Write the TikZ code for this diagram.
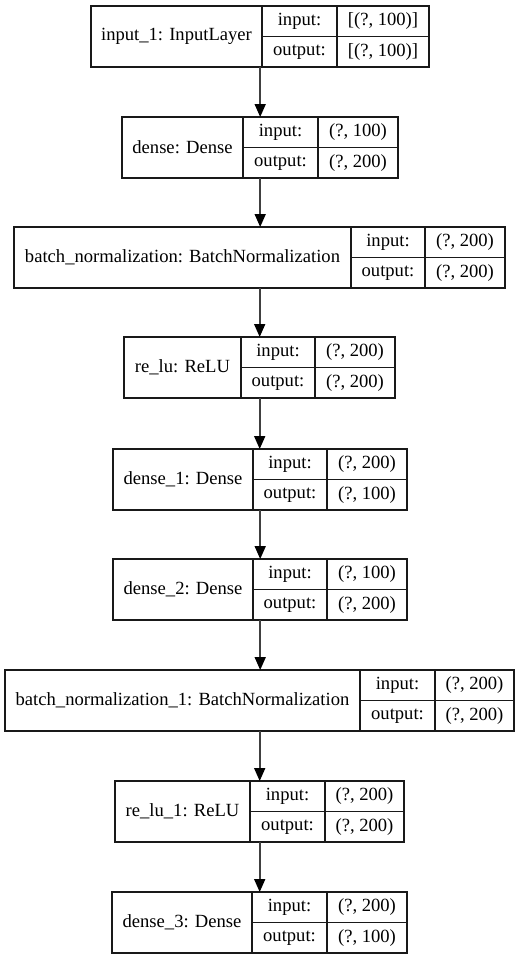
\documentclass[tikz,border=0pt]{standalone}
\usepackage{fontspec}
\setmainfont{Liberation Serif}
\usetikzlibrary{arrows.meta}
\tikzset{
  cell/.style={draw=black!90, line width=1.2pt, inner sep=0pt, anchor=center,
    font=\fontsize{18.6}{22}\selectfont},
  whole/.style={inner sep=0pt, draw=none, anchor=north west},
  flow/.style={draw=black!75, line width=1.7pt, -{Triangle[length=13pt,width=11pt,fill=black,color=black]}},
}
% #1 name, #2 left, #3 div1, #4 div2, #5 right, #6 top, #7 label, #8 input value, #9 output value
\newcommand\nnlayer[9]{%
  \pgfmathsetmacro\wA{#3-#2}%
  \pgfmathsetmacro\wB{#4-#3}%
  \pgfmathsetmacro\wC{#5-#4}%
  \pgfmathsetmacro\wT{#5-#2}%
  \node[whole, minimum width=\wT pt, minimum height=61pt] (#1) at (#2,#6) {};
  \node[cell, minimum width=\wA pt, minimum height=61pt] (#1lab) at ({(#2+#3)/2},{#6+30.5}) {#7};
  \node[cell, minimum width=\wB pt, minimum height=30.5pt] (#1in) at ({(#3+#4)/2},{#6+15.25}) {input:};
  \node[cell, minimum width=\wB pt, minimum height=30.5pt] (#1out) at ({(#3+#4)/2},{#6+45.75}) {output:};
  \node[cell, minimum width=\wC pt, minimum height=30.5pt] (#1inv) at ({(#4+#5)/2},{#6+15.25}) {#8};
  \node[cell, minimum width=\wC pt, minimum height=30.5pt] (#1outv) at ({(#4+#5)/2},{#6+45.75}) {#9};
}
\begin{document}
\begin{tikzpicture}[x=1pt, y=-1pt]
  \useasboundingbox[fill=white] (0,0) rectangle (520,959);
  \nnlayer{Lone}{91}{262}{337}{429}{6}{input\_1: InputLayer}{[(?, 100)]}{[(?, 100)]}
  \nnlayer{Ltwo}{122}{243}{318}{398}{117}{dense: Dense}{(?, 100)}{(?, 200)}
  \nnlayer{Lthree}{14}{351}{425}{505}{227}{batch\_normalization: BatchNormalization}{(?, 200)}{(?, 200)}
  \nnlayer{Lfour}{124}{241}{315}{395}{337}{re\_lu: ReLU}{(?, 200)}{(?, 200)}
  \nnlayer{Lfive}{113}{253}{327}{407}{449}{dense\_1: Dense}{(?, 200)}{(?, 100)}
  \nnlayer{Lsix}{113}{253}{327}{407}{559}{dense\_2: Dense}{(?, 100)}{(?, 200)}
  \nnlayer{Lseven}{5}{360}{435}{514}{670}{batch\_normalization\_1: BatchNormalization}{(?, 200)}{(?, 200)}
  \nnlayer{Leight}{115}{250}{325}{404}{781}{re\_lu\_1: ReLU}{(?, 200)}{(?, 200)}
  \nnlayer{Lnine}{112}{252}{327}{407}{892}{dense\_3: Dense}{(?, 200)}{(?, 100)}
  \draw[flow] (Lone.south) -- (Lone.south |- Ltwo.north);
  \draw[flow] (Ltwo.south) -- (Ltwo.south |- Lthree.north);
  \draw[flow] (Lthree.south) -- (Lthree.south |- Lfour.north);
  \draw[flow] (Lfour.south) -- (Lfour.south |- Lfive.north);
  \draw[flow] (Lfive.south) -- (Lfive.south |- Lsix.north);
  \draw[flow] (Lsix.south) -- (Lsix.south |- Lseven.north);
  \draw[flow] (Lseven.south) -- (Lseven.south |- Leight.north);
  \draw[flow] (Leight.south) -- (Leight.south |- Lnine.north);
\end{tikzpicture}
\end{document}
